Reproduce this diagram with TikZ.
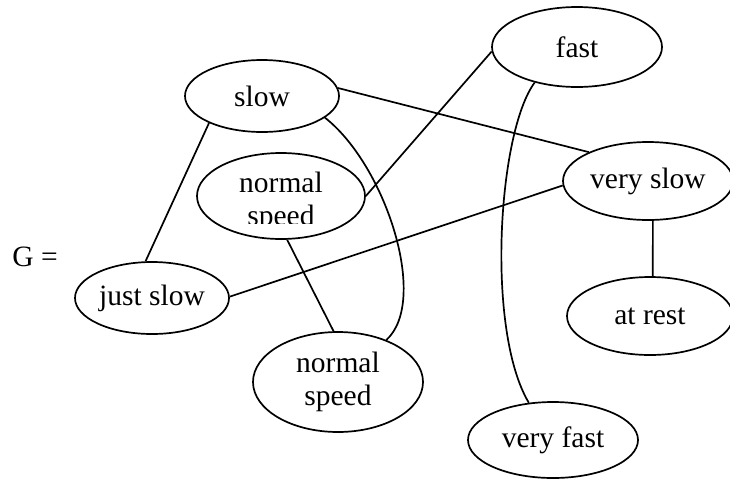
\documentclass[tikz,border=0pt]{standalone}
\usepackage{fontspec}
\setmainfont{Liberation Serif}
\usetikzlibrary{shapes.geometric}
\begin{document}
\begin{tikzpicture}[x=1pt, y=-1pt, line width=1.7pt,
	font=\fontsize{29.5}{33}\selectfont,
	vtx/.style={draw, ellipse, inner sep=0pt, minimum width=170pt, minimum height=76pt},
	smallvtx/.style={vtx, minimum width=154pt, minimum height=72pt}]
	\useasboundingbox (0,0) rectangle (730,480);
	\node (g) at (35,257) {G =};
	\node[smallvtx] (slow) at (262,96) {slow};
	\node[smallvtx] (jslow) at (152,298) {just slow};
	\node[vtx, minimum height=80pt] (fast) at (577,47) {fast};
	\node[vtx, minimum height=78pt] (vslow) at (648,181) {very slow};
	\node[vtx, minimum width=166pt, minimum height=78pt] (rest) at (650,316) {at rest};
	\node[vtx] (vfast) at (553,440) {very fast};
	\node[vtx, minimum width=168pt, minimum height=86pt, path picture={
		\clip (path picture bounding box.north west) rectangle ([yshift=-27pt]path picture bounding box.east);
		\node[align=center] at ([yshift=-6pt]path picture bounding box.center) {normal\\speed};
	}] (nup) at (281,196) {};
	\node[vtx, minimum height=100pt, align=center] (nlow) at (338,382) {normal\\speed};
	\draw (slow.207) -- (jslow.100);
	\draw (slow.6) -- (vslow.154);
	\draw (slow.341) .. controls +(61,48) and +(43,-39) .. (nlow.41);
	\draw (fast.183) -- (nup.0);
	\draw (fast.220) .. controls +(-37,50) and +(-43,-72) .. (vfast.123);
	\draw (jslow.1) -- (vslow.183);
	\draw (nup.278) -- (nlow.95);
	\draw (vslow.277) -- (rest.86);
\end{tikzpicture}
\end{document}
